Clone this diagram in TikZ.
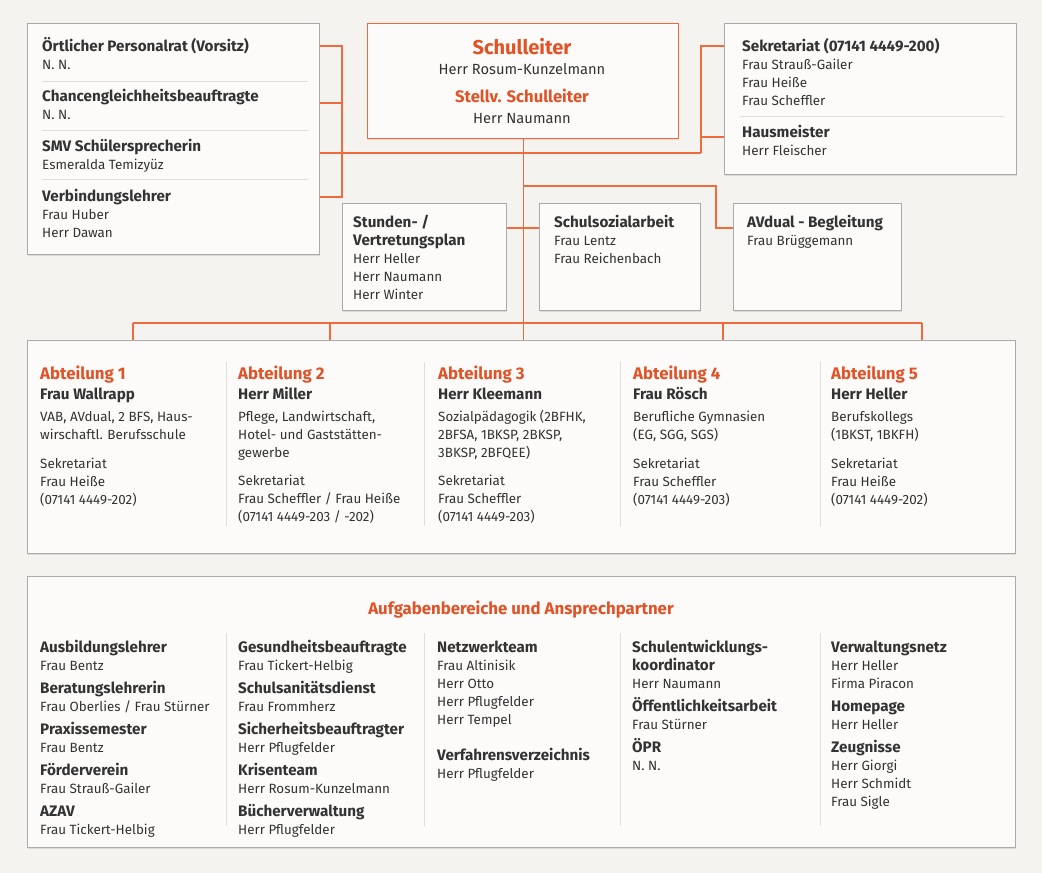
\documentclass[tikz,border=0pt]{standalone}
\usepackage{fontspec}
\setmainfont{Fira Sans}
\usetikzlibrary{shadows}
\definecolor{bg}{RGB}{244,243,239}
\definecolor{boxfill}{RGB}{252,251,249}
\definecolor{boxline}{RGB}{170,170,170}
\definecolor{orln}{RGB}{240,106,60}
\definecolor{ortx}{RGB}{226,82,38}
\definecolor{txt}{RGB}{51,51,51}
\definecolor{sepc}{RGB}{222,222,220}
\newcommand\bodyfont{\fontsize{13.4}{16}\selectfont}
\newcommand\headfont{\fontsize{15.2}{17}\selectfont\bfseries}
\tikzset{
 box/.style={draw=boxline, fill=boxfill, line width=1.2pt, anchor=north west, inner sep=0pt,
   drop shadow={shadow xshift=0.8pt, shadow yshift=-1.2pt, opacity=0.10, fill=black}},
 conn/.style={draw=orln, line width=1.2pt},
 sepline/.style={draw=sepc, line width=1pt},
 tx/.style={anchor=base west, inner sep=0pt, text=txt, font=\bodyfont},
 hd/.style={tx, font=\headfont},
 ot/.style={anchor=base west, inner sep=0pt, text=ortx, font=\fontsize{16.8}{19}\selectfont\bfseries},
}
\newcommand\stack[3]{%
  \foreach \Ya/\Sa/\Ta [count=\Ia] in {#3} {\node[\Sa] (#1\Ia) at (#2,\Ya) {\Ta};}}
\begin{document}
\begin{tikzpicture}[x=1pt,y=-1pt]
\useasboundingbox[fill=bg] (0,0) rectangle (1042,873);

% boxes
\node[box, minimum width=292pt, minimum height=231pt] (LB) at (27,23) {};
\node[box, draw=orln, minimum width=311pt, minimum height=115pt] (SL) at (367,23) {};
\node[box, minimum width=292pt, minimum height=151pt] (RB) at (724,23) {};
\node[box, minimum width=164pt, minimum height=107pt] (ST) at (342,203) {};
\node[box, minimum width=161pt, minimum height=107pt] (SS) at (539,203) {};
\node[box, minimum width=168pt, minimum height=107pt] (AV) at (733,203) {};
\node[box, minimum width=988pt, minimum height=213pt] (DB) at (27,340) {};
\node[box, minimum width=988pt, minimum height=271pt] (BB) at (27,576) {};

% junction coordinates
\coordinate (a1) at (342,46); \coordinate (a2) at (342,103);
\coordinate (a3) at (342,153); \coordinate (a4) at (342,197);
\coordinate (b1) at (701,46); \coordinate (b2) at (701,137); \coordinate (b3) at (701,153);
\coordinate (c1) at (SL.south|-0,186); \coordinate (c2) at (716,186); \coordinate (c3) at (716,228);
\coordinate (d1) at (133,323); \coordinate (d2) at (330,323); \coordinate (d3) at (SL.south|-0,323);
\coordinate (d4) at (723,323); \coordinate (d5) at (922,323);

% connectors
\draw[conn] (LB.east|-a1) -- (a1) -- (a4) -- (LB.east|-a4);
\draw[conn] (LB.east|-a2) -- (a2);
\draw[conn] (LB.east|-a3) -- (b3);
\draw[conn] (RB.west|-b1) -- (b1) -- (b3);
\draw[conn] (RB.west|-b2) -- (b2);
\draw[conn] (SL.south) -- (SL.south|-DB.north);
\draw[conn] (c1) -- (c2) -- (c3) -- (AV.west|-c3);
\draw[conn] (ST.east|-c3) -- (SS.west|-c3);
\draw[conn] (d1) -- (d5);
\foreach \d in {d1,d2,d4,d5} {\draw[conn] (\d) -- (\d|-DB.north);}

% separators
\foreach \y in {81,130,179} {\draw[sepline] (42,\y) -- (308,\y);}
\draw[sepline] (740,116) -- (1004,116);
\foreach \x in {226,424,620,820} {\draw[sepline] (\x,362) -- (\x,526); \draw[sepline] (\x,633) -- (\x,826);}

% left box
\stack{lb}{42}{51/hd/{Örtlicher Personalrat (Vorsitz)}, 69/tx/{N. N.},
 101/hd/{Chancengleichheitsbeauftragte}, 119/tx/{N. N.},
 151/hd/{SMV Schülersprecherin}, 169/tx/{Esmeralda Temizyüz},
 201/hd/{Verbindungslehrer}, 219/tx/{Frau Huber}, 237/tx/{Herr Dawan}}

% Schulleiter
\node[anchor=base, inner sep=0pt, text=ortx, font=\fontsize{20}{22}\selectfont\bfseries] (sl1) at (522,54) {Schulleiter};
\node[anchor=base, inner sep=0pt, text=txt, font=\fontsize{14.7}{17}\selectfont] (sl2) at (522,74) {Herr Rosum-Kunzelmann};
\node[anchor=base, inner sep=0pt, text=ortx, font=\fontsize{16.6}{19}\selectfont\bfseries] (sl3) at (522,102) {Stellv. Schulleiter};
\node[anchor=base, inner sep=0pt, text=txt, font=\fontsize{14.7}{17}\selectfont] (sl4) at (522,123) {Herr Naumann};

% right box
\stack{rb}{742}{51/hd/{Sekretariat (07141 4449-200)}, 69/tx/{Frau Strauß-Gailer},
 87/tx/{Frau Heiße}, 105/tx/{Frau Scheffler}, 137/hd/{Hausmeister}, 155/tx/{Herr Fleischer}}

% middle boxes
\stack{st}{353}{227/hd/{Stunden- /}, 245/hd/{Vertretungsplan}, 263/tx/{Herr Heller},
 281/tx/{Herr Naumann}, 299/tx/{Herr Winter}}
\stack{ss}{554}{227/hd/{Schulsozialarbeit}, 245/tx/{Frau Lentz}, 263/tx/{Frau Reichenbach}}
\stack{av}{747}{227/hd/{AVdual - Begleitung}, 245/tx/{Frau Brüggemann}}

% departments
\stack{ab}{40}{379/ot/{Abteilung 1}, 399/hd/{Frau Wallrapp}, 421/tx/{VAB, AVdual, 2 BFS, Haus-},
 439/tx/{wirschaftl. Berufsschule}, 468/tx/{Sekretariat}, 486/tx/{Frau Heiße}, 504/tx/{(07141 4449-202)}}
\stack{ac}{238}{379/ot/{Abteilung 2}, 399/hd/{Herr Miller}, 421/tx/{Pflege, Landwirtschaft,},
 439/tx/{Hotel- und Gaststätten-}, 457/tx/{gewerbe}, 485/tx/{Sekretariat},
 503/tx/{Frau Scheffler / Frau Heiße}, 521/tx/{(07141 4449-203 / -202)}}
\stack{ad}{438}{379/ot/{Abteilung 3}, 399/hd/{Herr Kleemann}, 421/tx/{Sozialpädagogik (2BFHK,},
 439/tx/{2BFSA, 1BKSP, 2BKSP,}, 457/tx/{3BKSP, 2BFQEE)}, 485/tx/{Sekretariat},
 503/tx/{Frau Scheffler}, 521/tx/{(07141 4449-203)}}
\stack{ae}{633}{379/ot/{Abteilung 4}, 399/hd/{Frau Rösch}, 421/tx/{Berufliche Gymnasien},
 439/tx/{(EG, SGG, SGS)}, 468/tx/{Sekretariat}, 486/tx/{Frau Scheffler}, 504/tx/{(07141 4449-203)}}
\stack{af}{831}{379/ot/{Abteilung 5}, 399/hd/{Herr Heller}, 421/tx/{Berufskollegs},
 439/tx/{(1BKST, 1BKFH)}, 468/tx/{Sekretariat}, 486/tx/{Frau Heiße}, 504/tx/{(07141 4449-202)}}

% bottom
\node[anchor=base, inner sep=0pt, text=ortx, font=\fontsize{16.8}{19}\selectfont\bfseries] (bt) at (521,614) {Aufgabenbereiche und Ansprechpartner};
\stack{ba}{40}{652/hd/{Ausbildungslehrer}, 670/tx/{Frau Bentz}, 693/hd/{Beratungslehrerin},
 711/tx/{Frau Oberlies / Frau Stürner}, 734/hd/{Praxissemester}, 752/tx/{Frau Bentz},
 775/hd/{Förderverein}, 793/tx/{Frau Strauß-Gailer}, 816/hd/{AZAV}, 834/tx/{Frau Tickert-Helbig}}
\stack{bc}{238}{652/hd/{Gesundheitsbeauftragte}, 670/tx/{Frau Tickert-Helbig}, 693/hd/{Schulsanitätsdienst},
 711/tx/{Frau Frommherz}, 734/hd/{Sicherheitsbeauftragter}, 752/tx/{Herr Pflugfelder},
 775/hd/{Krisenteam}, 793/tx/{Herr Rosum-Kunzelmann}, 816/hd/{Bücherverwaltung}, 834/tx/{Herr Pflugfelder}}
\stack{bd}{437}{652/hd/{Netzwerkteam}, 670/tx/{Frau Altinisik}, 688/tx/{Herr Otto},
 706/tx/{Herr Pflugfelder}, 724/tx/{Herr Tempel}, 760/hd/{Verfahrensverzeichnis}, 778/tx/{Herr Pflugfelder}}
\stack{be}{632}{652/hd/{Schulentwicklungs-}, 670/hd/{koordinator}, 688/tx/{Herr Naumann},
 711/hd/{Öffentlichkeitsarbeit}, 729/tx/{Frau Stürner}, 752/hd/{ÖPR}, 770/tx/{N. N.}}
\stack{bf}{831}{652/hd/{Verwaltungsnetz}, 670/tx/{Herr Heller}, 688/tx/{Firma Piracon},
 711/hd/{Homepage}, 729/tx/{Herr Heller}, 752/hd/{Zeugnisse}, 770/tx/{Herr Giorgi},
 788/tx/{Herr Schmidt}, 806/tx/{Frau Sigle}}
\end{tikzpicture}
\end{document}
